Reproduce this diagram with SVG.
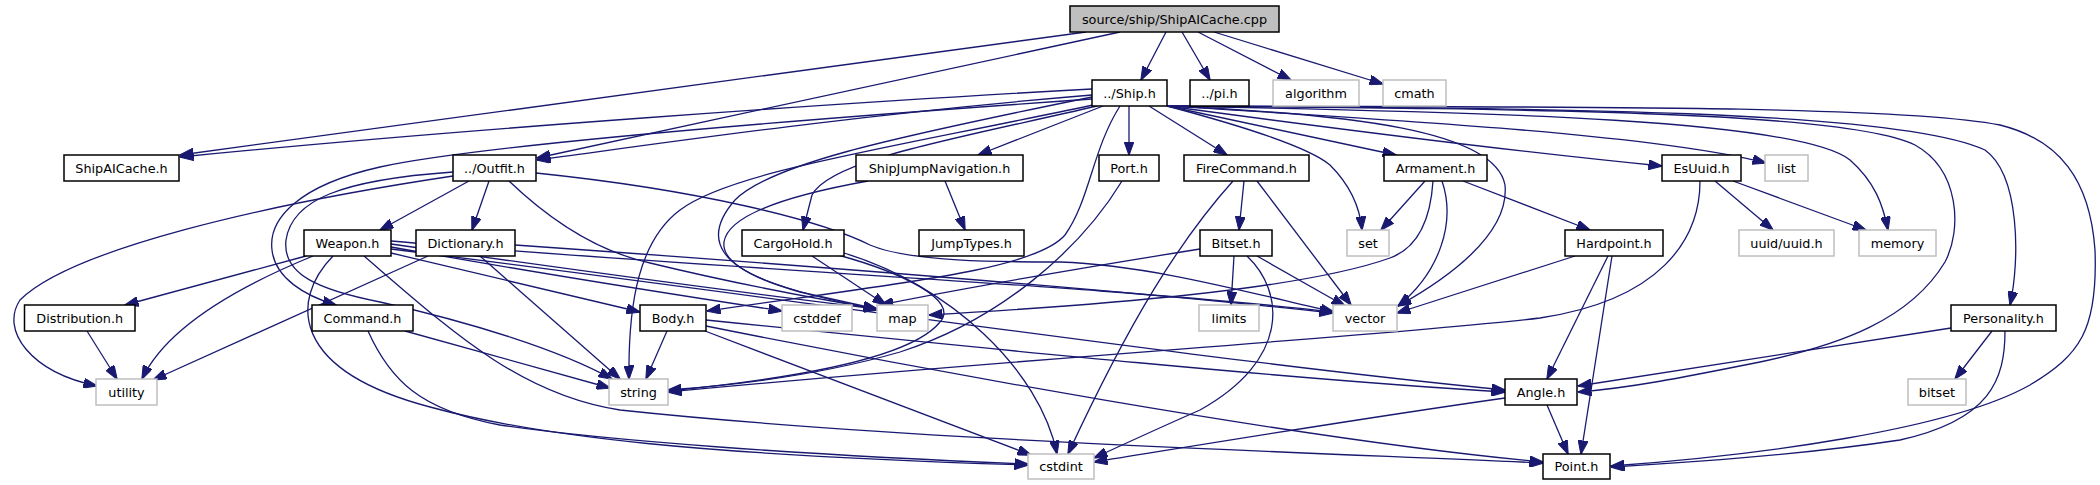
<svg xmlns="http://www.w3.org/2000/svg" width="2100" height="485" viewBox="0 0 2100 485">
<defs>
<marker id="ah" markerUnits="userSpaceOnUse" markerWidth="14" markerHeight="10" viewBox="0 0 14 10" refX="13.5" refY="5" orient="auto">
<path d="M0,0 L14,5 L0,10 z" fill="#191970" stroke="#191970" stroke-width="1"/>
</marker>
<style>
.node rect{fill:#ffffff;stroke:#000000;stroke-width:1.5}
.sys rect{fill:#ffffff;stroke:#bfbfbf;stroke-width:1.5}
.src rect{fill:#bfbfbf;stroke:#000000;stroke-width:1.5}
text{font-family:"DejaVu Sans","Liberation Sans",sans-serif;font-size:12.8px;fill:#000000;text-anchor:middle}
#edges path{fill:none;stroke:#191970;stroke-width:1.3;marker-end:url(#ah)}
</style>
</defs>
<rect x="0" y="0" width="2100" height="485" fill="#ffffff"/>
<g id="edges">
<path d="M1086,32 L180,155"/>
<path d="M1120,32 L537,158"/>
<path d="M1166,32 L1141,80"/>
<path d="M1182,32 L1210,80"/>
<path d="M1198,32 L1291,80"/>
<path d="M1214,32 L1383,84"/>
<path d="M1092,89 C850,102 450,130 180,157"/>
<path d="M1092,95 C850,115 650,145 537,160"/>
<path d="M1092,99 C820,118 480,145 380,167 C300,185 268,218 272,250 C275,278 305,296 336,305"/>
<path d="M1093,105 C880,150 730,172 680,210 C640,240 628,300 629,379"/>
<path d="M1097,106 C950,140 830,160 812,195 L803,230"/>
<path d="M1103,106 L978,155"/>
<path d="M1129,106 L1129,155"/>
<path d="M1149,106 L1227,155"/>
<path d="M1120,106 C1092,150 1090,200 1065,235 C1035,270 900,283 707,311"/>
<path d="M1092,97 C880,140 770,165 735,200 C700,240 720,270 800,292 L877,309"/>
<path d="M1167,106 C1250,128 1310,148 1330,165 C1350,185 1360,208 1362,230"/>
<path d="M1167,106 L1396,155"/>
<path d="M1167,106 C1300,124 1500,150 1662,166"/>
<path d="M1167,106 C1400,120 1660,135 1766,163"/>
<path d="M1167,106 C1350,114 1495,130 1505,185 C1510,235 1445,280 1398,306"/>
<path d="M1167,106 C1500,112 1800,120 1850,160 C1875,182 1883,205 1888,230"/>
<path d="M1167,106 C1550,109 1850,112 1915,145 C1960,170 1962,230 1945,262 C1910,320 1840,345 1760,362 C1680,378 1630,388 1578,392"/>
<path d="M1167,106 C1550,108 1900,110 1985,150 C2020,175 2020,260 2010,305"/>
<path d="M1167,106 C1550,107 1900,105 2000,125 C2060,140 2090,180 2095,250 C2098,330 2080,355 2030,385 C1950,430 1760,455 1611,466"/>
<path d="M469,181 L380,230"/>
<path d="M489,181 L472,230"/>
<path d="M453,176 C260,205 70,250 20,300 C0,330 30,372 97,386"/>
<path d="M453,172 C340,180 292,200 286,240 C282,275 320,290 380,302 C470,322 560,350 612,379"/>
<path d="M509,181 C555,225 600,252 650,263 C720,280 800,296 877,309"/>
<path d="M536,173 C700,190 820,220 870,245 C910,262 1000,262 1060,262 C1150,265 1250,293 1334,312"/>
<path d="M306,256 L125,305"/>
<path d="M313,256 C230,290 165,330 142,379"/>
<path d="M333,256 C290,300 290,370 430,407 C540,437 700,455 1028,465"/>
<path d="M364,256 C450,330 520,395 620,410 C900,440 1300,452 1543,463"/>
<path d="M391,253 L640,312"/>
<path d="M391,247 C520,270 690,297 782,311"/>
<path d="M391,244 C560,268 760,295 877,309"/>
<path d="M391,241 C700,268 1100,285 1333,312"/>
<path d="M391,249 C800,300 1200,360 1505,390"/>
<path d="M428,256 L153,380"/>
<path d="M480,256 L620,379"/>
<path d="M515,245 C800,265 1100,288 1333,313"/>
<path d="M945,181 L965,230"/>
<path d="M868,181 C790,195 728,215 724,242 C720,272 790,292 877,310"/>
<path d="M1122,181 C1080,250 1000,320 900,352 C820,375 740,385 668,390"/>
<path d="M1244,181 L1239,230"/>
<path d="M1233,181 C1180,240 1130,320 1068,454"/>
<path d="M1257,181 L1351,305"/>
<path d="M1425,181 L1381,230"/>
<path d="M1442,181 C1456,222 1440,272 1398,306"/>
<path d="M1433,181 C1430,228 1412,250 1390,258 C1300,290 1100,305 929,315"/>
<path d="M1463,181 L1590,230"/>
<path d="M1715,181 L1773,230"/>
<path d="M1733,181 L1866,230"/>
<path d="M1700,181 C1700,240 1660,300 1540,318 C1400,335 1000,360 668,392"/>
<path d="M812,256 L886,305"/>
<path d="M838,255 C900,272 960,300 940,322 C910,360 780,380 668,391"/>
<path d="M844,253 C950,285 1040,370 1057,454"/>
<path d="M1234,256 L1231,305"/>
<path d="M1257,256 L1345,306"/>
<path d="M1247,256 C1285,292 1290,360 1200,410 C1150,432 1120,446 1094,458"/>
<path d="M1200,249 C1100,265 980,285 880,305"/>
<path d="M1575,256 L1397,313"/>
<path d="M1608,256 L1547,379"/>
<path d="M1612,256 L1581,454"/>
<path d="M87,331 L117,379"/>
<path d="M405,331 L610,388"/>
<path d="M368,331 C390,380 420,410 500,425 C600,440 800,455 1028,464"/>
<path d="M667,331 L646,379"/>
<path d="M706,320 C1000,350 1300,380 1505,392"/>
<path d="M706,326 C900,365 1300,440 1543,462"/>
<path d="M705,331 L1031,455"/>
<path d="M1951,328 L1578,386"/>
<path d="M1992,331 L1955,379"/>
<path d="M2005,331 C2005,380 1990,420 1900,440 C1800,455 1700,462 1611,467"/>
<path d="M1547,405 L1568,454"/>
<path d="M1505,398 C1350,420 1200,445 1094,462"/>
</g>
<g id="n_src" class="src"><rect x="1070" y="6" width="209" height="26"/><text x="1174.5" y="23.5">source/ship/ShipAICache.cpp</text></g>
<g id="n_ship" class="node"><rect x="1092" y="80" width="75" height="26"/><text x="1129.5" y="97.5">../Ship.h</text></g>
<g id="n_pi" class="node"><rect x="1190" y="80" width="59" height="26"/><text x="1219.5" y="97.5">../pi.h</text></g>
<g id="n_algorithm" class="sys"><rect x="1273" y="80" width="86" height="26"/><text x="1316" y="97.5">algorithm</text></g>
<g id="n_cmath" class="sys"><rect x="1383" y="80" width="63" height="26"/><text x="1414.5" y="97.5">cmath</text></g>
<g id="n_shipaicache" class="node"><rect x="64" y="155" width="115" height="26"/><text x="121.5" y="172.5">ShipAICache.h</text></g>
<g id="n_outfit" class="node"><rect x="453" y="155" width="83" height="26"/><text x="494.5" y="172.5">../Outfit.h</text></g>
<g id="n_sjn" class="node"><rect x="856" y="155" width="167" height="26"/><text x="939.5" y="172.5">ShipJumpNavigation.h</text></g>
<g id="n_port" class="node"><rect x="1099" y="155" width="60" height="26"/><text x="1129" y="172.5">Port.h</text></g>
<g id="n_firecommand" class="node"><rect x="1184" y="155" width="125" height="26"/><text x="1246.5" y="172.5">FireCommand.h</text></g>
<g id="n_armament" class="node"><rect x="1384" y="155" width="103" height="26"/><text x="1435.5" y="172.5">Armament.h</text></g>
<g id="n_esuuid" class="node"><rect x="1662" y="155" width="79" height="26"/><text x="1701.5" y="172.5">EsUuid.h</text></g>
<g id="n_list" class="sys"><rect x="1765" y="155" width="43" height="26"/><text x="1786.5" y="172.5">list</text></g>
<g id="n_weapon" class="node"><rect x="304" y="230" width="87" height="26"/><text x="347.5" y="247.5">Weapon.h</text></g>
<g id="n_dictionary" class="node"><rect x="416" y="230" width="99" height="26"/><text x="465.5" y="247.5">Dictionary.h</text></g>
<g id="n_cargohold" class="node"><rect x="742" y="230" width="102" height="26"/><text x="793" y="247.5">CargoHold.h</text></g>
<g id="n_jumptypes" class="node"><rect x="919" y="230" width="105" height="26"/><text x="971.5" y="247.5">JumpTypes.h</text></g>
<g id="n_bitset_h" class="node"><rect x="1200" y="230" width="72" height="26"/><text x="1236" y="247.5">Bitset.h</text></g>
<g id="n_set" class="sys"><rect x="1347" y="230" width="42" height="26"/><text x="1368" y="247.5">set</text></g>
<g id="n_hardpoint" class="node"><rect x="1565" y="230" width="98" height="26"/><text x="1614" y="247.5">Hardpoint.h</text></g>
<g id="n_uuid" class="sys"><rect x="1739" y="230" width="95" height="26"/><text x="1786.5" y="247.5">uuid/uuid.h</text></g>
<g id="n_memory" class="sys"><rect x="1859" y="230" width="77" height="26"/><text x="1897.5" y="247.5">memory</text></g>
<g id="n_distribution" class="node"><rect x="24.5" y="305" width="110.5" height="26"/><text x="79.75" y="322.5">Distribution.h</text></g>
<g id="n_command" class="node"><rect x="312" y="305" width="101" height="26"/><text x="362.5" y="322.5">Command.h</text></g>
<g id="n_body" class="node"><rect x="640" y="305" width="66" height="26"/><text x="673" y="322.5">Body.h</text></g>
<g id="n_cstddef" class="sys"><rect x="782" y="305" width="70" height="26"/><text x="817" y="322.5">cstddef</text></g>
<g id="n_map" class="sys"><rect x="877" y="305" width="51" height="26"/><text x="902.5" y="322.5">map</text></g>
<g id="n_limits" class="sys"><rect x="1199" y="305" width="60" height="26"/><text x="1229" y="322.5">limits</text></g>
<g id="n_vector" class="sys"><rect x="1333" y="305" width="64" height="26"/><text x="1365" y="322.5">vector</text></g>
<g id="n_personality" class="node"><rect x="1951" y="305" width="105" height="26"/><text x="2003.5" y="322.5">Personality.h</text></g>
<g id="n_utility" class="sys"><rect x="96" y="379" width="61" height="26"/><text x="126.5" y="396.5">utility</text></g>
<g id="n_string" class="sys"><rect x="609" y="379" width="59" height="26"/><text x="638.5" y="396.5">string</text></g>
<g id="n_angle" class="node"><rect x="1505" y="379" width="72" height="26"/><text x="1541" y="396.5">Angle.h</text></g>
<g id="n_bitset" class="sys"><rect x="1908" y="379" width="58" height="26"/><text x="1937" y="396.5">bitset</text></g>
<g id="n_cstdint" class="sys"><rect x="1028" y="454" width="66" height="25"/><text x="1061" y="471">cstdint</text></g>
<g id="n_point" class="node"><rect x="1543" y="454" width="67" height="25"/><text x="1576.5" y="471">Point.h</text></g>
</svg>
